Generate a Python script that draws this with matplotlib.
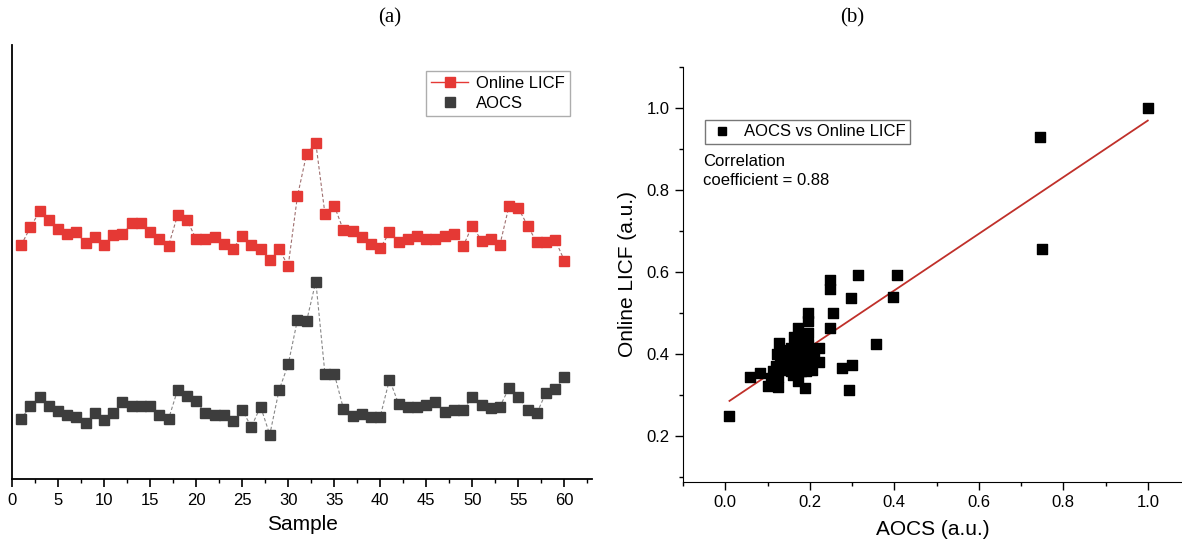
import numpy as np
import matplotlib
matplotlib.use("Agg")
import matplotlib.pyplot as plt
from matplotlib.lines import Line2D
from matplotlib.ticker import MultipleLocator

plt.rcParams['font.family'] = ['Liberation Sans', 'DejaVu Sans']

# (a) signal per sample, arbitrary units (no y scale shown)
samples = np.arange(1, 61)
licf = [53.9, 58.0, 61.7, 59.6, 57.5, 56.4, 56.8, 54.3, 55.7, 54.0,
        56.3, 56.4, 58.9, 58.9, 56.9, 55.2, 53.7, 60.9, 59.7, 55.3,
        55.3, 55.7, 54.2, 53.1, 55.9, 54.0, 53.1, 50.5, 53.0, 49.1,
        65.1, 74.9, 77.4, 61.0, 63.0, 57.3, 57.2, 55.7, 54.2, 53.2,
        56.8, 54.5, 55.2, 56.0, 55.4, 55.3, 56.0, 56.4, 53.6, 58.4,
        54.9, 55.4, 54.0, 63.0, 62.4, 58.4, 54.5, 54.7, 55.1, 50.3]
aocs = [13.9, 16.8, 18.8, 16.9, 15.7, 14.8, 14.4, 12.8, 15.2, 13.6,
        15.2, 17.7, 16.9, 16.9, 16.9, 14.7, 13.8, 20.6, 19.1, 17.9,
        15.2, 14.7, 14.7, 13.4, 15.9, 12.0, 16.7, 10.2, 20.4, 26.4,
        36.6, 36.4, 45.5, 24.1, 24.3, 16.2, 14.5, 15.0, 14.2, 14.4,
        22.9, 17.3, 16.5, 16.5, 17.1, 17.7, 15.5, 15.9, 15.9, 18.8,
        17.0, 16.3, 16.7, 21.0, 18.8, 15.9, 15.1, 19.9, 20.7, 23.6]

# (b) normalised AOCS vs online LICF
sc_x = [0.010, 0.059, 0.083, 0.101, 0.125, 0.127, 0.130, 0.122, 0.135, 0.130,
        0.143, 0.114, 0.109, 0.125, 0.147, 0.155, 0.163, 0.171, 0.180, 0.195,
        0.196, 0.195, 0.196, 0.179, 0.183, 0.171, 0.163, 0.155, 0.187, 0.202,
        0.222, 0.222, 0.206, 0.191, 0.172, 0.188, 0.247, 0.256, 0.277, 0.299,
        0.294, 0.247, 0.247, 0.313, 0.406, 0.297, 0.398, 0.356, 0.745, 0.750,
        1.000, 0.140, 0.150, 0.160, 0.170, 0.120, 0.200, 0.210, 0.180, 0.160]
sc_y = [0.248, 0.345, 0.353, 0.322, 0.321, 0.427, 0.411, 0.400, 0.394, 0.378,
        0.382, 0.358, 0.341, 0.345, 0.362, 0.415, 0.441, 0.465, 0.443, 0.500,
        0.480, 0.451, 0.424, 0.415, 0.398, 0.390, 0.374, 0.358, 0.378, 0.378,
        0.415, 0.380, 0.362, 0.358, 0.335, 0.318, 0.465, 0.500, 0.366, 0.374,
        0.313, 0.582, 0.559, 0.594, 0.593, 0.537, 0.539, 0.424, 0.929, 0.656,
        1.000, 0.400, 0.390, 0.400, 0.420, 0.370, 0.400, 0.390, 0.360, 0.350]
fit_slope = 0.691
fit_intercept = 0.279
corr = 0.88

red = '#e53935'
dark = '#3d3d3d'

fig = plt.figure(figsize=(11.82, 5.39), dpi=100)

# ---- panel (a)
ax1 = fig.add_axes([12/1182, 1-479/539, 580/1182, 434/539])
ax1.plot(samples, licf, ls=(0, (3, 2)), lw=0.8, color='#a07070',
         marker='s', ms=6.5, mfc=red, mec=red)
ax1.plot(samples, aocs, ls=(0, (3, 2)), lw=0.8, color='#888888',
         marker='s', ms=6.5, mfc=dark, mec=dark)
ax1.set_xlim(0, 63)
ax1.set_ylim(0, 100)
ax1.spines['top'].set_visible(False)
ax1.spines['right'].set_visible(False)
ax1.spines['left'].set_linewidth(1.3)
ax1.spines['bottom'].set_linewidth(1.3)
ax1.set_yticks([])
ax1.xaxis.set_major_locator(MultipleLocator(5))
ax1.xaxis.set_minor_locator(MultipleLocator(2.5))
ax1.tick_params(axis='x', which='major', length=6, width=1.2, labelsize=12, pad=4)
ax1.tick_params(axis='x', which='minor', length=3, width=1.0)
ax1.set_xlabel('Sample', fontsize=15, labelpad=5)

h1 = [Line2D([], [], color=red, lw=1, marker='s', ms=6.5, mfc=red, mec=red),
      Line2D([], [], ls='none', marker='s', ms=6.5, mfc=dark, mec=dark)]
fig.legend(h1, ['Online LICF', 'AOCS'], loc='upper left',
           bbox_to_anchor=(418/1182, 1-63/539), fontsize=12, frameon=True,
           fancybox=False, edgecolor='#999999', handlelength=2.2,
           handletextpad=0.5, borderpad=0.3, labelspacing=0.3)
fig.text(390/1182, 1-18/539, '(a)', fontsize=15, ha='center', va='center',
         family='Liberation Serif')

# ---- panel (b)
ax2 = fig.add_axes([683/1182, 1-481.6/539, 499/1182, 414.3/539])
ax2.scatter(sc_x, sc_y, marker='s', s=48, color='black', zorder=3)
lx = np.array([min(sc_x), max(sc_x)])
ax2.plot(lx, fit_intercept + fit_slope * lx, color='#c0302a', lw=1.3, zorder=2)
ax2.set_xlim(-0.1, 1.081)
ax2.set_ylim(0.089, 1.1)
ax2.spines['top'].set_visible(False)
ax2.spines['right'].set_visible(False)
ax2.xaxis.set_minor_locator(MultipleLocator(0.1))
ax2.yaxis.set_minor_locator(MultipleLocator(0.1))
ax2.set_xticks([0.0, 0.2, 0.4, 0.6, 0.8, 1.0])
ax2.set_yticks([0.2, 0.4, 0.6, 0.8, 1.0])
ax2.tick_params(which='major', length=6, width=1.0, labelsize=12)
ax2.tick_params(which='minor', length=3, width=1.0)
ax2.set_xlabel('AOCS (a.u.)', fontsize=15, labelpad=7)
ax2.set_ylabel('Online LICF (a.u.)', fontsize=15, labelpad=7)

h2 = [Line2D([], [], ls='none', marker='s', ms=6, mfc='black', mec='black')]
fig.legend(h2, ['AOCS vs Online LICF'], loc='upper left',
           bbox_to_anchor=(697/1182, 1-112/539), fontsize=12, frameon=True,
           fancybox=False, edgecolor='#555555', handletextpad=0.6,
           borderpad=0.25, handlelength=1.5)
fig.text(703/1182, 1-171/539, 'Correlation\ncoefficient = %.2f' % corr,
         fontsize=12, ha='left', va='center', linespacing=1.3)
fig.text(852/1182, 1-18/539, '(b)', fontsize=15, ha='center', va='center',
         family='Liberation Serif')

fig.savefig('out.png', dpi=100)
